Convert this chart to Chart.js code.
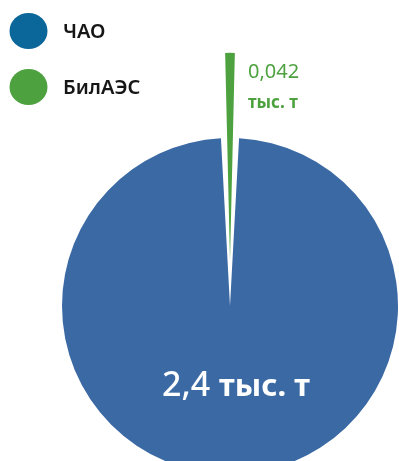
<!DOCTYPE html>
<html>
<head>
<meta charset="utf-8">
<script src="https://cdn.jsdelivr.net/npm/chart.js@4"></script>
<style>
  html, body { margin: 0; padding: 0; background: #fff; }
</style>
</head>
<body>
<canvas id="myChart" width="399" height="461"></canvas>
<script>
var labels = ['ЧАО', 'БилАЭС'];
var values = [2.4, 0.042];
var valueText = ['2,4', '0,042'];
var unitText = 'тыс. т';
var sliceColors = ['#3A69A4', '#4DA23F'];
var legendColors = ['#0B6699', '#4DA23F'];

var FONT = '"Noto Sans", "DejaVu Sans", sans-serif';
var total = values[0] + values[1];

// legend drawn in the top left corner, over the chart area
var dotLegend = {
  id: 'dotLegend',
  afterDraw: function(chart) {
    var ctx = chart.ctx;
    ctx.save();
    chart.data.labels.forEach(function(label, i) {
      var y = 31 + i * 56;
      ctx.fillStyle = legendColors[i];
      ctx.beginPath();
      ctx.ellipse(28.5, y, 19, 18, 0, 0, Math.PI * 2);
      ctx.fill();
      ctx.fillStyle = '#161616';
      ctx.font = '600 20px ' + FONT;
      ctx.textAlign = 'left';
      ctx.textBaseline = 'middle';
      ctx.fillText(label, 63, y + 1);
    });
    ctx.restore();
  }
};

// value labels for both slices
var sliceLabels = {
  id: 'sliceLabels',
  afterDatasetsDraw: function(chart) {
    var ctx = chart.ctx;
    var arcs = chart.getDatasetMeta(0).data;
    var big = arcs[0], small = arcs[1];
    ctx.save();
    ctx.textBaseline = 'middle';

    var a = (big.startAngle + big.endAngle) / 2;
    var r = big.outerRadius * 0.48;
    var x = big.x + Math.cos(a) * r + 6;
    var y = big.y + Math.sin(a) * r;
    var part1 = valueText[0] + ' ';
    ctx.font = '500 34px ' + FONT;
    var w1 = ctx.measureText(part1).width;
    ctx.font = 'bold 31px ' + FONT;
    var w2 = ctx.measureText(unitText).width;
    var x0 = x - (w1 + w2) / 2;
    ctx.fillStyle = '#fff';
    ctx.textAlign = 'left';
    ctx.font = '500 34px ' + FONT;
    ctx.fillText(part1, x0, y);
    ctx.font = 'bold 31px ' + FONT;
    ctx.fillText(unitText, x0 + w1, y + 1);

    // the small slice is too thin to hold text, so its label sits beside the tip
    var sx = small.x + 18;
    var sy = small.y - small.outerRadius * 1.39;
    ctx.fillStyle = sliceColors[1];
    ctx.font = '20px ' + FONT;
    ctx.fillText(valueText[1], sx, sy);
    ctx.font = 'bold 17px ' + FONT;
    ctx.fillText(unitText, sx, sy + 31);
    ctx.restore();
  }
};

var ctx = document.getElementById('myChart').getContext('2d');
var myChart = new Chart(ctx, {
  type: 'pie',
  data: {
    labels: labels,
    datasets: [{
      data: values,
      backgroundColor: sliceColors,
      borderWidth: 0,
      offset: [0, 180],
      hoverOffset: 0,
      radius: 168,
      // the small slice comes last, so turn it back to sit centred on top
      rotation: (values[1] / total) * 180,
      clip: false
    }]
  },
  options: {
    responsive: false,
    animation: false,
    layout: {
      padding: { left: 62, right: 1, top: 156, bottom: 5 }
    },
    plugins: {
      legend: { display: false },
      tooltip: { enabled: false }
    }
  },
  plugins: [sliceLabels, dotLegend]
});
</script>
</body>
</html>
